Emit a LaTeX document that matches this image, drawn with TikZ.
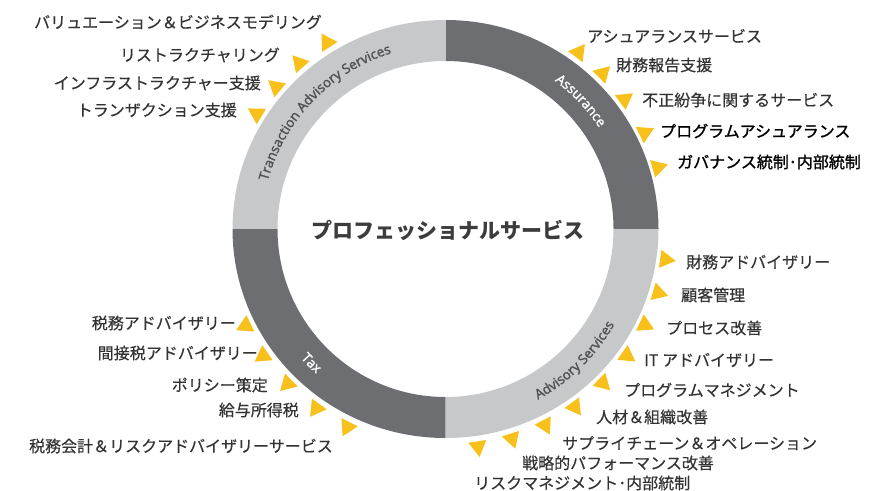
\documentclass[tikz,border=0pt]{standalone}
\usepackage{fontspec}
\setmainfont{Noto Sans CJK JP}
\newfontfamily\lblfont{Noto Sans CJK JP}[FakeBold=0.4]
\newfontfamily\lblheavy{Noto Sans CJK JP}[FakeBold=1.2]
\newfontfamily\ringfont{Open Sans}[FakeBold=1.6]
\usetikzlibrary{shapes.geometric,decorations.text,calc}
\definecolor{ringdark}{HTML}{6D6E71}
\definecolor{ringlight}{HTML}{C7C8CA}
\definecolor{triyellow}{HTML}{F7C01A}
\definecolor{labelgray}{HTML}{333333}
\definecolor{ringtext}{HTML}{4F5053}
\definecolor{titlegray}{HTML}{3C3C3C}
\tikzset{
  tri/.style={regular polygon, regular polygon sides=3, fill=triyellow, draw=none, inner sep=0pt, minimum size=21pt},
  lbl/.style={inner sep=0pt, text=labelgray, font=\lblfont\fontsize{16}{19}\selectfont},
  lblw/.style={lbl, anchor=west},
  lble/.style={lbl, anchor=east},
  lblb/.style={lblw, text=black, font=\lblheavy\fontsize{16}{19}\selectfont},
}
\begin{document}
\begin{tikzpicture}[x=1pt,y=1pt]
\useasboundingbox (0,0) rectangle (885,-490);
\coordinate (C) at (445.5,-229);
% ring quadrants
\fill[ringdark] ($(C)+(213,0)$) arc[start angle=0,end angle=90,x radius=213,y radius=209] -- ($(C)+(0,168)$) arc[start angle=90,end angle=0,radius=168] -- cycle;
\fill[ringlight] ($(C)+(0,209)$) arc[start angle=90,end angle=180,x radius=213,y radius=209] -- ($(C)+(-168,0)$) arc[start angle=180,end angle=90,radius=168] -- cycle;
\fill[ringdark] ($(C)+(-213,0)$) arc[start angle=180,end angle=270,x radius=213,y radius=209] -- ($(C)+(0,-168)$) arc[start angle=270,end angle=180,radius=168] -- cycle;
\fill[ringlight] ($(C)+(0,-209)$) arc[start angle=270,end angle=360,x radius=213,y radius=209] -- ($(C)+(168,0)$) arc[start angle=360,end angle=270,radius=168] -- cycle;
% ring texts
\path[decorate, decoration={text along path, text align=center, text color=ringtext,
  text={|\ringfont\fontsize{13.5}{15}\selectfont|Transaction Advisory Services}}]
  ($(C)+(176:184)$) arc[start angle=176,end angle=96,radius=184];
\path[decorate, decoration={text along path, text align=center, text color=white,
  text={|\ringfont\fontsize{13.5}{15}\selectfont|Assurance}}]
  ($(C)+(68:184)$) arc[start angle=68,end angle=19,radius=184];
\path[decorate, decoration={text along path, text align=center, text color=ringtext,
  text={|\ringfont\fontsize{13.5}{15}\selectfont|Advisory Services}}]
  ($(C)+(-78:194)$) arc[start angle=-78,end angle=-13,radius=194];
\path[decorate, decoration={text along path, text align=center, text color=white,
  text={|\ringfont\fontsize{13.5}{15}\selectfont|Tax}}]
  ($(C)+(205:194)$) arc[start angle=205,end angle=245,radius=194];
% title
\node[inner sep=0pt, text=titlegray, font=\bfseries\fontsize{21}{25}\selectfont] (title) at (448,-230) {プロフェッショナルサービス};
% triangles: TAS
\node[tri, rotate={122.4-90}] (t1) at ($(C)+(122.4:221)$) {};
\node[tri, rotate={131.4-90}] (t2) at ($(C)+(131.4:221)$) {};
\node[tri, rotate={140-90}] (t3) at ($(C)+(140:221)$) {};
\node[tri, rotate={148.6-90}] (t4) at ($(C)+(148.6:221)$) {};
% Assurance
\node[tri, rotate={53-90}] (a1) at ($(C)+(53:221)$) {};
\node[tri, rotate={44.7-90}] (a2) at ($(C)+(44.7:221)$) {};
\node[tri, rotate={35.9-90}] (a3) at ($(C)+(35.9:221)$) {};
\node[tri, rotate={25.8-90}] (a4) at ($(C)+(25.8:221)$) {};
\node[tri, rotate={16.2-90}] (a5) at ($(C)+(16.2:221)$) {};
% Advisory
\node[tri, rotate={-7.9-90}] (v1) at ($(C)+(-7.9:222)$) {};
\node[tri, rotate={-16.7-90}] (v2) at ($(C)+(-16.7:222)$) {};
\node[tri, rotate={-25.7-90}] (v3) at ($(C)+(-25.7:221)$) {};
\node[tri, rotate={-34.9-90}] (v4) at ($(C)+(-34.9:221)$) {};
\node[tri, rotate={-44.4-90}] (v5) at ($(C)+(-44.4:220)$) {};
\node[tri, rotate={-54-90}] (v6) at ($(C)+(-54:220)$) {};
\node[tri, rotate={-63.1-90}] (v7) at ($(C)+(-63.1:220)$) {};
\node[tri, rotate={-72.4-90}] (v8) at ($(C)+(-72.4:220)$) {};
\node[tri, rotate={-81.5-90}] (v9) at ($(C)+(-81.5:220)$) {};
% Tax
\node[tri, rotate={205.8-90}] (x1) at ($(C)+(205.8:222)$) {};
\node[tri, rotate={214.8-90}] (x2) at ($(C)+(214.8:222)$) {};
\node[tri, rotate={224.4-90}] (x3) at ($(C)+(224.4:221)$) {};
\node[tri, rotate={234.2-90}] (x4) at ($(C)+(234.2:221)$) {};
\node[tri, rotate={243.6-90}] (x5) at ($(C)+(243.6:221)$) {};
% labels TAS
\node[lble] (lt0) at (322,-22) {バリュエーション＆ビジネスモデリング};
\node[lble] (lt1) at (280,-55) {リストラクチャリング};
\node[lble] (lt2) at (261,-83) {インフラストラクチャー支援};
\node[lble] (lt3) at (237,-110) {トランザクション支援};
% labels Assurance
\node[lblw] (la1) at (587,-36) {アシュアランスサービス};
\node[lblw] (la2) at (616,-65) {財務報告支援};
\node[lblw] (la3) at (642,-100) {不正紛争に関するサービス};
\node[lblb] (la4) at (660,-131) {プログラムアシュアランス};
\node[lblb] (la5) at (677,-162) {ガバナンス統制･内部統制};
% labels Advisory
\node[lblw] (lv1) at (686,-262) {財務アドバイザリー};
\node[lblw] (lv2) at (681,-295) {顧客管理};
\node[lblw] (lv3) at (666,-328) {プロセス改善};
\node[lblw] (lv4) at (644,-360) {IT アドバイザリー};
\node[lblw] (lv5) at (624,-390) {プログラムマネジメント};
\node[lblw] (lv6) at (596,-417) {人材＆組織改善};
\node[lblw] (lv7) at (562,-443) {サプライチェーン＆オペレーション};
\node[lblw] (lv8) at (522,-463) {戦略的パフォーマンス改善};
\node[lblw] (lv9) at (474,-483) {リスクマネジメント･内部統制};
% labels Tax
\node[lble] (lx1) at (236,-323) {税務アドバイザリー};
\node[lble] (lx2) at (258,-353) {間接税アドバイザリー};
\node[lble] (lx3) at (268,-385) {ポリシー策定};
\node[lble] (lx4) at (299,-410) {給与所得税};
\node[lble] (lx5) at (333,-446) {税務会計＆リスクアドバイザリーサービス};
\end{tikzpicture}
\end{document}
